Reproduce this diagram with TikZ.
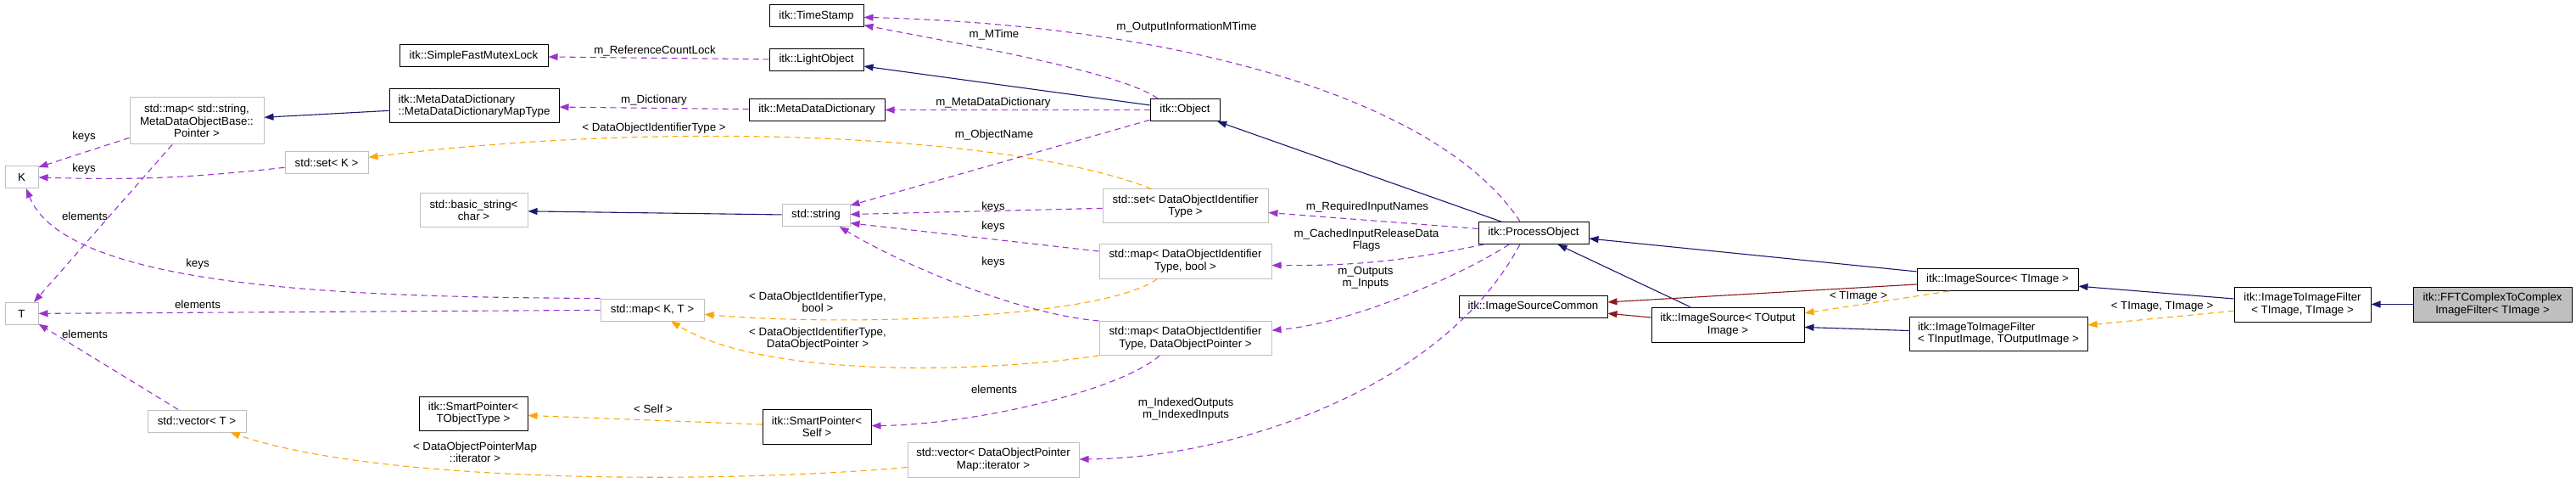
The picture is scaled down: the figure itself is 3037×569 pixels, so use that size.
\documentclass[tikz,border=0pt]{standalone}
\usepackage{fontspec}
\setmainfont{Liberation Sans}
\definecolor{navy}{HTML}{191970}
\definecolor{wine}{HTML}{8B1A1A}
\definecolor{orchid}{HTML}{9A32CD}
\definecolor{amber}{HTML}{FFA500}
\definecolor{frame}{HTML}{BFBFBF}
\usetikzlibrary{arrows.meta}
\tikzset{
  cls/.style={draw=black, line width=1pt, fill=white, inner sep=0pt, align=center,
    font=\fontsize{13.3pt}{14.3pt}\selectfont},
  ext/.style={cls, draw=frame},
  self/.style={cls, fill=frame},
  wh/.style 2 args={minimum width=#1pt, minimum height=#2pt},
  lbl/.style={inner sep=0pt, align=center, font=\fontsize{13.3pt}{14.3pt}\selectfont},
  link/.style={line width=1.1pt, -{Triangle[length=11pt,width=8pt]}},
  inherit/.style={link, navy},
  privinh/.style={link, wine},
  member/.style={link, orchid, dash pattern=on 7pt off 5pt},
  tmplarg/.style={link, amber, dash pattern=on 7pt off 5pt},
}
\begin{document}
\begin{tikzpicture}[x=1pt, y=-1pt]
  \useasboundingbox (0,0) rectangle (3037,569);
  % Classes
  \node[cls, wh={111}{26}] (ts) at (962.5,19) {itk::TimeStamp};
  \node[cls, wh={175}{26}] (sfml) at (558.5,66) {itk::SimpleFastMutexLock};
  \node[cls, wh={111}{26}] (lo) at (962.5,70.5) {itk::LightObject};
  \node[cls, wh={200}{40}, align=left] (mapt) at (559,125) {itk::MetaDataDictionary\\::MetaDataDictionaryMapType};
  \node[cls, wh={160}{26}] (mdd) at (963,129.5) {itk::MetaDataDictionary};
  \node[cls, wh={82}{26}] (obj) at (1397,129.5) {itk::Object};
  \node[ext, wh={158}{55}] (mapstr) at (232,142.5) {std::map< std::string,\\MetaDataObjectBase::\\Pointer >};
  \node[ext, wh={39}{26}] (K) at (25.5,208.5) {K};
  \node[ext, wh={98}{26}] (setk) at (385,191.5) {std::set< K >};
  \node[ext, wh={127}{40}] (bstr) at (558.5,248) {std::basic\_string<\\char >};
  \node[ext, wh={80}{26}] (str) at (962,253.5) {std::string};
  \node[ext, wh={195}{40}] (setdo) at (1397.5,243) {std::set< DataObjectIdentifier\\Type >};
  \node[cls, wh={130}{26}] (po) at (1808,274.5) {itk::ProcessObject};
  \node[ext, wh={203}{41}] (mapbool) at (1397.5,307.5) {std::map< DataObjectIdentifier\\Type, bool >};
  \node[ext, wh={39}{26}] (T) at (25.5,369.5) {T};
  \node[ext, wh={122}{26}] (mapkt) at (769,365) {std::map< K, T >};
  \node[ext, wh={203}{40}] (mapdop) at (1397.5,398.5) {std::map< DataObjectIdentifier\\Type, DataObjectPointer >};
  \node[cls, wh={175}{26}] (isc) at (1807.5,361) {itk::ImageSourceCommon};
  \node[cls, wh={180}{41}] (isto) at (2037,382.5) {itk::ImageSource< TOutput\\Image >};
  \node[cls, wh={190}{26}] (isti) at (2355,329.5) {itk::ImageSource< TImage >};
  \node[cls, wh={210}{40}, align=left] (iitfio) at (2356,393) {itk::ImageToImageFilter\\< TInputImage, TOutputImage >};
  \node[cls, wh={161}{41}] (iitfii) at (2714.5,358.5) {itk::ImageToImageFilter\\< TImage, TImage >};
  \node[self, wh={187}{41}] (fft) at (2938.5,358.5) {itk::FFTComplexToComplex\\ImageFilter< TImage >};
  \node[ext, wh={116}{26}] (vect) at (232,496) {std::vector< T >};
  \node[cls, wh={128}{40}] (spto) at (558,487) {itk::SmartPointer<\\TObjectType >};
  \node[cls, wh={128}{41}] (spself) at (963,502.5) {itk::SmartPointer<\\Self >};
  \node[ext, wh={202}{41}] (vecdop) at (1171,541.5) {std::vector< DataObjectPointer\\Map::iterator >};

  % Inheritance
  \draw[inherit] (obj) -- (lo);
  \draw[inherit] (str) -- (bstr);
  \draw[inherit] (mapt) -- (mapstr);
  \draw[inherit] (po) -- (obj);
  \draw[inherit] (isti) -- (po);
  \draw[inherit] (isto) -- (po);
  \draw[inherit] (iitfio) -- (isto);
  \draw[inherit] (iitfii) -- (isti);
  \draw[inherit] (fft) -- (iitfii);
  \draw[privinh] (isti) -- (isc);
  \draw[privinh] (isto) -- (isc);

  % Template arguments
  \draw[tmplarg] (iitfii) -- (iitfio);
  \draw[tmplarg] ([xshift=-57pt]isti.south) -- (isto);
  \draw[tmplarg] (spself) -- (spto);
  \draw[tmplarg] ([xshift=-40pt]setdo.north) .. controls (1200,160) and (800,140) .. (setk);
  \draw[tmplarg] ([xshift=-33pt]mapbool.south) .. controls (1300,375) and (1000,385) .. (mapkt);
  \draw[tmplarg] (mapdop.south west) .. controls (1150,440) and (900,445) .. (mapkt);
  \draw[tmplarg] (vecdop) .. controls (850,570) and (450,570) .. (vect);

  % Members
  \draw[member] (lo) -- (sfml);
  \draw[member] (mdd) -- (mapt);
  \draw[member] (obj) -- (mdd);
  \draw[member] ([xshift=-32pt]obj.north) .. controls (1320,85) and (1150,55) .. (ts);
  \draw[member] ([xshift=-16pt]po.north) .. controls (1700,120) and (1400,30) .. (ts);
  \draw[member] (obj) -- (str);
  \draw[member] (setdo) -- (str);
  \draw[member] (mapbool) -- (str.-13);
  \draw[member] (mapdop.north west) .. controls (1200,370) and (1060,310) .. (str.-26);
  \draw[member] (po) -- (setdo);
  \draw[member] (po.193) to[bend left=6] (mapbool);
  \draw[member] (po.-155) .. controls (1730,320) and (1600,380) .. (mapdop);
  \draw[member] (po.-140) .. controls (1700,460) and (1450,540) .. (vecdop);
  \draw[member] (mapdop.-146) .. controls (1320,460) and (1150,500) .. (spself);
  \draw[member] (mapstr.194) -- (K.30);
  \draw[member] (setk) to[bend left=4] (K);
  \draw[member] (mapstr.-136) -- (T.43);
  \draw[member] (mapkt.north west) .. controls (450,350) and (80,345) .. (K);
  \draw[member] (mapkt) -- (T);
  \draw[member] (vect) -- (T);

  % Edge labels
  \node[lbl] (lRef) at (772,60) {m\_ReferenceCountLock};
  \node[lbl] (lDict) at (771,118) {m\_Dictionary};
  \node[lbl] (lMTime) at (1172,41) {m\_MTime};
  \node[lbl] (lOutInfo) at (1399,32) {m\_OutputInformationMTime};
  \node[lbl] (lMdd) at (1171,121) {m\_MetaDataDictionary};
  \node[lbl] (lDoit) at (771,151) {< DataObjectIdentifierType >};
  \node[lbl] (lName) at (1172,159) {m\_ObjectName};
  \node[lbl] (lKeysA) at (99,161) {keys};
  \node[lbl] (lKeysB) at (99,199) {keys};
  \node[lbl] (lElemA) at (100,255) {elements};
  \node[lbl] (lKeysC) at (1171,244) {keys};
  \node[lbl] (lKeysD) at (1171,267) {keys};
  \node[lbl] (lKeysE) at (1171,309) {keys};
  \node[lbl] (lReq) at (1612,244) {m\_RequiredInputNames};
  \node[lbl] (lCached) at (1611,283) {m\_CachedInputReleaseData\\Flags};
  \node[lbl] (lInOut) at (1610,327) {m\_Outputs\\m\_Inputs};
  \node[lbl] (lKeysF) at (233,311) {keys};
  \node[lbl] (lElemB) at (233,359) {elements};
  \node[lbl] (lElemC) at (100,394) {elements};
  \node[lbl] (lBool) at (964,356) {< DataObjectIdentifierType,\\bool >};
  \node[lbl] (lDop) at (964,399) {< DataObjectIdentifierType,\\DataObjectPointer >};
  \node[lbl] (lImg) at (2191,349) {< TImage >};
  \node[lbl] (lImgImg) at (2549,361) {< TImage, TImage >};
  \node[lbl] (lElemD) at (1172,459) {elements};
  \node[lbl] (lIdx) at (1398,482) {m\_IndexedOutputs\\m\_IndexedInputs};
  \node[lbl] (lSelf) at (770,482) {< Self >};
  \node[lbl] (lIter) at (560,533) {< DataObjectPointerMap\\::iterator >};
\end{tikzpicture}
\end{document}
